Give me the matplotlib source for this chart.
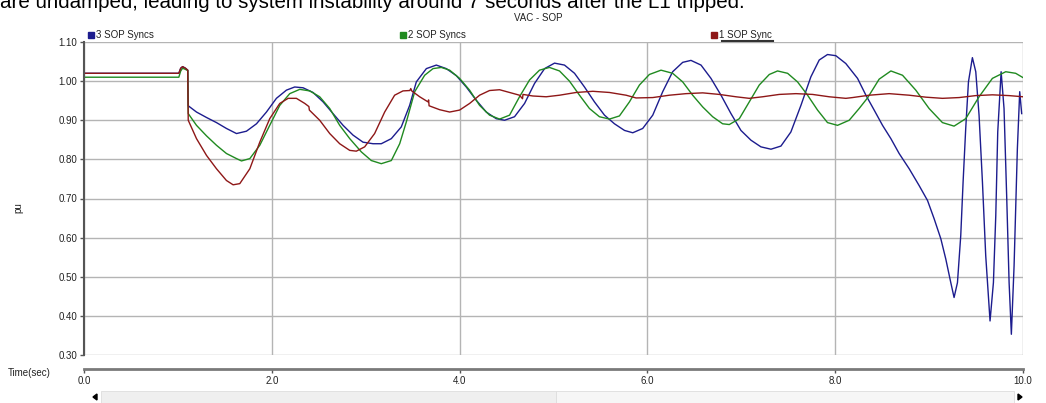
import numpy as np
import matplotlib
matplotlib.use('Agg')
import matplotlib.pyplot as plt
from matplotlib.lines import Line2D
from matplotlib.patches import Rectangle, Polygon

plt.rcParams['font.family'] = ['Liberation Sans', 'DejaVu Sans']

# 3 SOP Syncs (blue)
t_blue = [0.0, 1.01, 1.03, 1.05, 1.08, 1.105, 1.11,
          1.198, 1.305, 1.411, 1.517, 1.624, 1.730, 1.837, 1.943, 2.049, 2.156, 2.244, 2.333, 2.439, 2.546,
          2.652, 2.759, 2.865, 2.971, 3.078, 3.166, 3.273, 3.379, 3.468,
          3.539, 3.646, 3.752, 3.858, 3.965, 4.071, 4.178, 4.284, 4.390, 4.479, 4.585, 4.692, 4.798, 4.905,
          5.011, 5.117, 5.224, 5.330, 5.436, 5.543, 5.649, 5.756, 5.844,
          5.950, 6.057, 6.163, 6.269, 6.376, 6.464, 6.571, 6.677, 6.784, 6.890, 6.996, 7.103, 7.209, 7.316,
          7.422, 7.528, 7.635, 7.741, 7.830, 7.918, 8.007, 8.113,
          8.238, 8.327, 8.415, 8.504, 8.593, 8.681, 8.788, 8.894, 8.983, 9.054, 9.125, 9.178, 9.231, 9.266,
          9.302, 9.337, 9.362, 9.390, 9.419, 9.461, 9.497, 9.532, 9.568, 9.603, 9.649, 9.685, 9.710, 9.731,
          9.767, 9.798, 9.827, 9.852, 9.876, 9.905, 9.940, 9.965, 9.986]
v_blue = [1.02, 1.02, 1.033, 1.037, 1.033, 1.028, 0.937,
          0.921, 0.907, 0.894, 0.879, 0.866, 0.872, 0.891, 0.921, 0.956, 0.977, 0.985, 0.983, 0.971, 0.947,
          0.917, 0.887, 0.862, 0.844, 0.840, 0.840, 0.853, 0.883, 0.938,
          0.998, 1.032, 1.041, 1.032, 1.014, 0.985, 0.951, 0.921, 0.904, 0.900, 0.909, 0.943, 0.994, 1.032,
          1.046, 1.041, 1.020, 0.985, 0.947, 0.913, 0.891, 0.874, 0.868,
          0.879, 0.913, 0.973, 1.024, 1.048, 1.053, 1.041, 1.007, 0.964, 0.917, 0.874, 0.849, 0.832, 0.826,
          0.834, 0.870, 0.938, 1.011, 1.054, 1.068, 1.065, 1.045,
          1.007, 0.964, 0.926, 0.887, 0.853, 0.815, 0.776, 0.733, 0.695, 0.648, 0.597, 0.545, 0.485, 0.447,
          0.485, 0.605, 0.742, 0.879, 0.998, 1.060, 1.024, 0.913, 0.742, 0.554, 0.387, 0.485, 0.656, 0.870,
          1.024, 0.930, 0.699, 0.485, 0.353, 0.528, 0.827, 0.973, 0.917]

# 2 SOP Syncs (green)
t_green = [0.0, 1.01, 1.03, 1.05, 1.08, 1.105, 1.11,
           1.198, 1.305, 1.411, 1.517, 1.624, 1.677, 1.766, 1.872, 1.978, 2.085, 2.191, 2.298, 2.404, 2.510,
           2.617, 2.723, 2.830, 2.954, 3.060, 3.166, 3.273,
           3.362, 3.433, 3.522, 3.628, 3.717, 3.805, 3.894, 4.000, 4.106, 4.213, 4.319, 4.426, 4.532, 4.638,
           4.745, 4.851, 4.957, 5.064, 5.170, 5.277, 5.383, 5.489, 5.596, 5.702, 5.809,
           5.915, 6.021, 6.145, 6.269, 6.376, 6.482, 6.589, 6.695, 6.801, 6.872, 6.979, 7.085, 7.191, 7.298,
           7.386, 7.493, 7.599, 7.706, 7.812, 7.918, 8.025, 8.149, 8.255,
           8.344, 8.468, 8.593, 8.717, 8.858, 9.000, 9.142, 9.266, 9.390, 9.532, 9.674, 9.816, 9.922, 10.0]
v_green = [1.01, 1.01, 1.026, 1.033, 1.030, 1.027, 0.917,
           0.887, 0.860, 0.836, 0.815, 0.802, 0.796, 0.802, 0.836, 0.887, 0.938, 0.968, 0.979, 0.975, 0.960,
           0.930, 0.887, 0.853, 0.819, 0.797, 0.789, 0.797,
           0.840, 0.896, 0.973, 1.015, 1.032, 1.035, 1.028, 1.007, 0.977, 0.938, 0.913, 0.903, 0.913, 0.960,
           1.003, 1.028, 1.035, 1.026, 1.000, 0.964, 0.930, 0.909, 0.903, 0.911, 0.947,
           0.990, 1.017, 1.028, 1.020, 0.998, 0.964, 0.934, 0.909, 0.891, 0.889, 0.904, 0.947, 0.990, 1.017,
           1.026, 1.020, 0.998, 0.964, 0.926, 0.894, 0.887, 0.900, 0.930,
           0.957, 1.005, 1.026, 1.015, 0.977, 0.930, 0.894, 0.885, 0.904, 0.960, 1.007, 1.024, 1.020, 1.009]

# 1 SOP Sync (red)
t_red = [0.0, 1.01, 1.03, 1.05, 1.08, 1.105, 1.11,
         1.198, 1.305, 1.411, 1.517, 1.588, 1.659, 1.766, 1.872, 1.978, 2.085, 2.174, 2.262, 2.351, 2.395,
         2.40, 2.510, 2.617, 2.723, 2.830, 2.900, 2.989, 3.095, 3.202, 3.308, 3.397,
         3.47, 3.48, 3.49, 3.575, 3.663, 3.67, 3.675, 3.787, 3.894, 4.000, 4.107, 4.213, 4.319, 4.426, 4.532,
         4.638, 4.67, 4.675, 4.780, 4.922, 5.064, 5.241, 5.419, 5.596, 5.773,
         5.879, 6.057, 6.234, 6.411, 6.589, 6.766, 6.943, 7.085, 7.227, 7.404, 7.582, 7.759, 7.936, 8.113,
         8.185, 8.362, 8.575, 8.788, 8.965, 9.142, 9.320, 9.497, 9.674, 9.851, 10.0]
v_red = [1.02, 1.02, 1.033, 1.037, 1.033, 1.028, 0.900,
         0.853, 0.810, 0.776, 0.746, 0.735, 0.738, 0.776, 0.844, 0.904, 0.943, 0.956, 0.956, 0.943, 0.935,
         0.926, 0.900, 0.866, 0.840, 0.823, 0.821, 0.832, 0.866, 0.921, 0.964, 0.975,
         0.976, 0.981, 0.975, 0.960, 0.947, 0.952, 0.937, 0.927, 0.921, 0.926, 0.943, 0.964, 0.976, 0.978, 0.971,
         0.964, 0.955, 0.966, 0.962, 0.960, 0.964, 0.971, 0.974, 0.971, 0.964,
         0.957, 0.958, 0.964, 0.968, 0.970, 0.966, 0.960, 0.956, 0.960, 0.966, 0.968, 0.966, 0.960, 0.956,
         0.958, 0.964, 0.968, 0.964, 0.959, 0.956, 0.958, 0.963, 0.965, 0.963, 0.960]

labels = ['3 SOP Syncs', '2 SOP Syncs', '1 SOP Sync']
colors = ['#1c1c8e', '#208a20', '#8e1717']
legend_x = [88, 400, 711]  # pixel columns of the legend squares
y_ticks = [0.30, 0.40, 0.50, 0.60, 0.70, 0.80, 0.90, 1.00, 1.10]
x_ticks = [0.0, 2.0, 4.0, 6.0, 8.0, 10.0]

W, H = 1046, 403
fig = plt.figure(figsize=(W / 100, H / 100), dpi=100)
ax = fig.add_axes([84 / W, 1 - 355 / H, (1023 - 84) / W, (355 - 42) / H])

for s in ['top', 'right']:
    ax.spines[s].set_visible(False)
ax.spines['bottom'].set_position(('outward', 10))
ax.spines['bottom'].set_color('#7a7a7a')
ax.spines['bottom'].set_linewidth(2)
ax.spines['left'].set_color('#555555')
ax.spines['left'].set_linewidth(1.5)

ax.plot(t_blue, v_blue, color=colors[0], lw=1)
ax.plot(t_green, v_green, color=colors[1], lw=1)
ax.plot(t_red, v_red, color=colors[2], lw=1)

ax.set_xlim(0, 10)
ax.set_ylim(0.30, 1.10)
ax.set_yticks(y_ticks)
ax.set_yticklabels(['%.2f' % y for y in y_ticks])
ax.set_xticks(x_ticks)
ax.set_xticklabels(['%.1f' % x for x in x_ticks])
ax.tick_params(axis='both', labelsize=7, labelcolor='#222222', length=3, width=1, color='#555555', pad=2)
ax.grid(True, color='#b4b4b4', lw=1)
ax.set_axisbelow(True)

# legend row above the plot
for x, c, lab in zip(legend_x, colors, labels):
    fig.add_artist(Line2D([(x + 2.5) / W], [1 - 35 / H], marker='s', ls='', color=c, markersize=4,
                          transform=fig.transFigure))
    fig.text((x + 8) / W, 1 - 35 / H, lab, ha='left', va='center', fontsize=7, color='#222222')
fig.add_artist(Line2D([722 / W, 773 / W], [1 - 40.5 / H, 1 - 40.5 / H], color='#333333', lw=1.5,
                      transform=fig.transFigure))

fig.text(538 / W, 1 - 18 / H, 'VAC - SOP', ha='center', va='center', fontsize=7, color='#222222')
fig.text(18 / W, 1 - 208 / H, 'pu', ha='center', va='center', rotation=90, fontsize=7, color='#222222')
fig.text(8 / W, 1 - 373 / H, 'Time(sec)', ha='left', va='center', fontsize=7, color='#222222')
fig.text(0.0, 1 - 8 / H, 'are undamped, leading to system instability around 7 seconds after the L1 tripped.',
         ha='left', va='baseline', fontsize=14.8, color='black')

# scroll bar strip at the bottom
fig.patches.append(Rectangle((101 / W, 0), (556 - 101) / W, 12 / H, transform=fig.transFigure,
                             facecolor='#efefef', edgecolor='#dddddd', lw=0.6))
fig.patches.append(Rectangle((556 / W, 0), (1014 - 556) / W, 12 / H, transform=fig.transFigure,
                             facecolor='#f6f6f6', edgecolor='#dddddd', lw=0.6))
fig.patches.append(Polygon([(93 / W, 6 / H), (97 / W, 9 / H), (97 / W, 3 / H)],
                           closed=True, transform=fig.transFigure, color='black'))
fig.patches.append(Polygon([(1022 / W, 6 / H), (1018 / W, 9 / H), (1018 / W, 3 / H)],
                           closed=True, transform=fig.transFigure, color='black'))

fig.savefig('out.png', dpi=100)
